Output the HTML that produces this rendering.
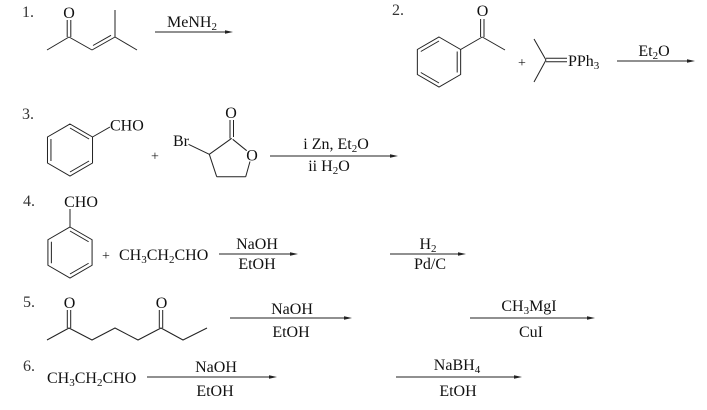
<!DOCTYPE html>
<html>
<head>
<meta charset="utf-8">
<style>
html,body{margin:0;padding:0;background:#fff;}
svg{display:block;}
text{font-family:"Liberation Serif","Noto Serif CJK SC",serif;font-size:16px;fill:#111;}
.n{font-size:16px;fill:#333;}
line,polyline,polygon{stroke:#222;stroke-width:1;fill:none;}
polygon.ah{fill:#222;stroke:none;}
</style>
</head>
<body>
<svg width="707" height="410" viewBox="0 0 707 410" xmlns="http://www.w3.org/2000/svg">

<!-- ===== Row 1 ===== -->
<text class="n" x="22" y="17">1.</text>
<text x="69" y="18" text-anchor="middle">O</text>
<line x1="47" y1="50" x2="69" y2="37"/>
<line x1="67.2" y1="20" x2="67.2" y2="37"/>
<line x1="70.8" y1="20" x2="70.8" y2="37"/>
<line x1="69" y1="37" x2="92" y2="50"/>
<line x1="92" y1="50" x2="115" y2="37"/>
<line x1="93" y1="45.5" x2="111" y2="35.3"/>
<line x1="115" y1="37" x2="115" y2="10"/>
<line x1="115" y1="37" x2="137" y2="50"/>
<line x1="155" y1="32" x2="227" y2="32"/>
<polygon class="ah" points="233,32 225,30.2 225,33.8"/>
<text x="192" y="27" text-anchor="middle">MeNH<tspan font-size="11" dy="3">2</tspan></text>

<!-- ===== Row 2 ===== -->
<text class="n" x="392" y="15">2.</text>
<polygon points="439,37 460.65,49.5 460.65,74.5 439,87 417.35,74.5 417.35,49.5"/>
<line x1="420.81" y1="51.5" x2="439" y2="41"/>
<line x1="457.19" y1="51.5" x2="457.19" y2="72.5"/>
<line x1="439" y1="83" x2="420.81" y2="72.5"/>
<line x1="460.65" y1="49.5" x2="482.3" y2="37"/>
<line x1="482.3" y1="37" x2="505" y2="50"/>
<line x1="480.6" y1="19" x2="480.6" y2="37"/>
<line x1="484" y1="19" x2="484" y2="37"/>
<text x="482.5" y="16" text-anchor="middle">O</text>
<text x="522" y="67" text-anchor="middle" style="font-size:14px">+</text>
<line x1="534" y1="39" x2="546" y2="60"/>
<line x1="534" y1="82" x2="546" y2="60"/>
<line x1="546" y1="58.3" x2="567" y2="58.3"/>
<line x1="546" y1="61.7" x2="567" y2="61.7"/>
<text x="568" y="66">PPh<tspan font-size="11" dy="3">3</tspan></text>
<line x1="617" y1="61" x2="689" y2="61"/>
<polygon class="ah" points="695,61 687,59.2 687,62.8"/>
<text x="654" y="56" text-anchor="middle">Et<tspan font-size="11" dy="3">2</tspan><tspan dy="-3">O</tspan></text>

<!-- ===== Row 3 ===== -->
<text class="n" x="22" y="119">3.</text>
<polygon points="70,124 92.52,137 92.52,163 70,176 47.48,163 47.48,137"/>
<line x1="70" y1="128" x2="89.05" y2="139"/>
<line x1="89.05" y1="161" x2="70" y2="172"/>
<line x1="50.95" y1="161" x2="50.95" y2="139"/>
<line x1="92.52" y1="137" x2="110" y2="127"/>
<text x="110" y="130.5">CHO</text>
<text x="155" y="160.5" text-anchor="middle" style="font-size:14px">+</text>
<text x="173" y="146">Br</text>
<line x1="188.5" y1="144.3" x2="209.3" y2="154.3"/>
<line x1="209.3" y1="154.3" x2="231.7" y2="138.3"/>
<line x1="230" y1="120" x2="230" y2="138.5"/>
<line x1="233.5" y1="120" x2="233.5" y2="137"/>
<text x="231" y="118" text-anchor="middle">O</text>
<line x1="232.7" y1="139.3" x2="246.7" y2="150.7"/>
<text x="252" y="160.5" text-anchor="middle">O</text>
<line x1="250" y1="161.5" x2="245.7" y2="176.7"/>
<line x1="245.7" y1="176.7" x2="216.7" y2="176.7"/>
<line x1="216.7" y1="176.7" x2="209.3" y2="154.3"/>
<line x1="270" y1="156" x2="392" y2="156"/>
<polygon class="ah" points="398,156 390,154.2 390,157.8"/>
<text x="336" y="149" text-anchor="middle">i Zn, Et<tspan font-size="11" dy="3">2</tspan><tspan dy="-3">O</tspan></text>
<text x="329" y="171" text-anchor="middle">ii H<tspan font-size="11" dy="3">2</tspan><tspan dy="-3">O</tspan></text>

<!-- ===== Row 4 ===== -->
<text class="n" x="23" y="206">4.</text>
<text x="81" y="207" text-anchor="middle">CHO</text>
<line x1="70" y1="209" x2="70" y2="227"/>
<polygon points="70,227 92.08,239.75 92.08,265.25 70,278 47.92,265.25 47.92,239.75"/>
<line x1="70" y1="231" x2="88.62" y2="241.75"/>
<line x1="88.62" y1="263.25" x2="70" y2="274"/>
<line x1="51.38" y1="241.75" x2="51.38" y2="263.25"/>
<text x="106" y="260" text-anchor="middle" style="font-size:14px">+</text>
<text x="119" y="260">CH<tspan font-size="11" dy="3">3</tspan><tspan dy="-3">CH</tspan><tspan font-size="11" dy="3">2</tspan><tspan dy="-3">CHO</tspan></text>
<line x1="219" y1="254" x2="292" y2="254"/>
<polygon class="ah" points="298,254 290,252.2 290,255.8"/>
<text x="257" y="249" text-anchor="middle">NaOH</text>
<text x="257" y="269" text-anchor="middle">EtOH</text>
<line x1="390" y1="254" x2="460" y2="254"/>
<polygon class="ah" points="466,254 458,252.2 458,255.8"/>
<text x="428" y="249" text-anchor="middle">H<tspan font-size="11" dy="3">2</tspan></text>
<text x="430" y="269" text-anchor="middle">Pd/C</text>

<!-- ===== Row 5 ===== -->
<text class="n" x="23" y="307">5.</text>
<polyline points="47,340 69,328 92,340 115,328 138,340 161,328 183,340 207,328"/>
<line x1="67.3" y1="310" x2="67.3" y2="328"/>
<line x1="70.7" y1="310" x2="70.7" y2="328"/>
<text x="69.5" y="308" text-anchor="middle">O</text>
<line x1="159.3" y1="310" x2="159.3" y2="328"/>
<line x1="162.7" y1="310" x2="162.7" y2="328"/>
<text x="161.5" y="308" text-anchor="middle">O</text>
<line x1="230" y1="318" x2="346" y2="318"/>
<polygon class="ah" points="352,318 344,316.2 344,319.8"/>
<text x="292" y="314" text-anchor="middle">NaOH</text>
<text x="291" y="337" text-anchor="middle">EtOH</text>
<line x1="470" y1="318" x2="589" y2="318"/>
<polygon class="ah" points="595,318 587,316.2 587,319.8"/>
<text x="529" y="311" text-anchor="middle">CH<tspan font-size="11" dy="3">3</tspan><tspan dy="-3">MgI</tspan></text>
<text x="531" y="337" text-anchor="middle">CuI</text>

<!-- ===== Row 6 ===== -->
<text class="n" x="23" y="371">6.</text>
<text x="47" y="383">CH<tspan font-size="11" dy="3">3</tspan><tspan dy="-3">CH</tspan><tspan font-size="11" dy="3">2</tspan><tspan dy="-3">CHO</tspan></text>
<line x1="147" y1="377" x2="271" y2="377"/>
<polygon class="ah" points="277,377 269,375.2 269,378.8"/>
<text x="216" y="372" text-anchor="middle">NaOH</text>
<text x="215" y="396" text-anchor="middle">EtOH</text>
<line x1="396" y1="377" x2="516" y2="377"/>
<polygon class="ah" points="522,377 514,375.2 514,378.8"/>
<text x="457" y="370" text-anchor="middle">NaBH<tspan font-size="11" dy="3">4</tspan></text>
<text x="458" y="396" text-anchor="middle">EtOH</text>

</svg>
</body>
</html>
